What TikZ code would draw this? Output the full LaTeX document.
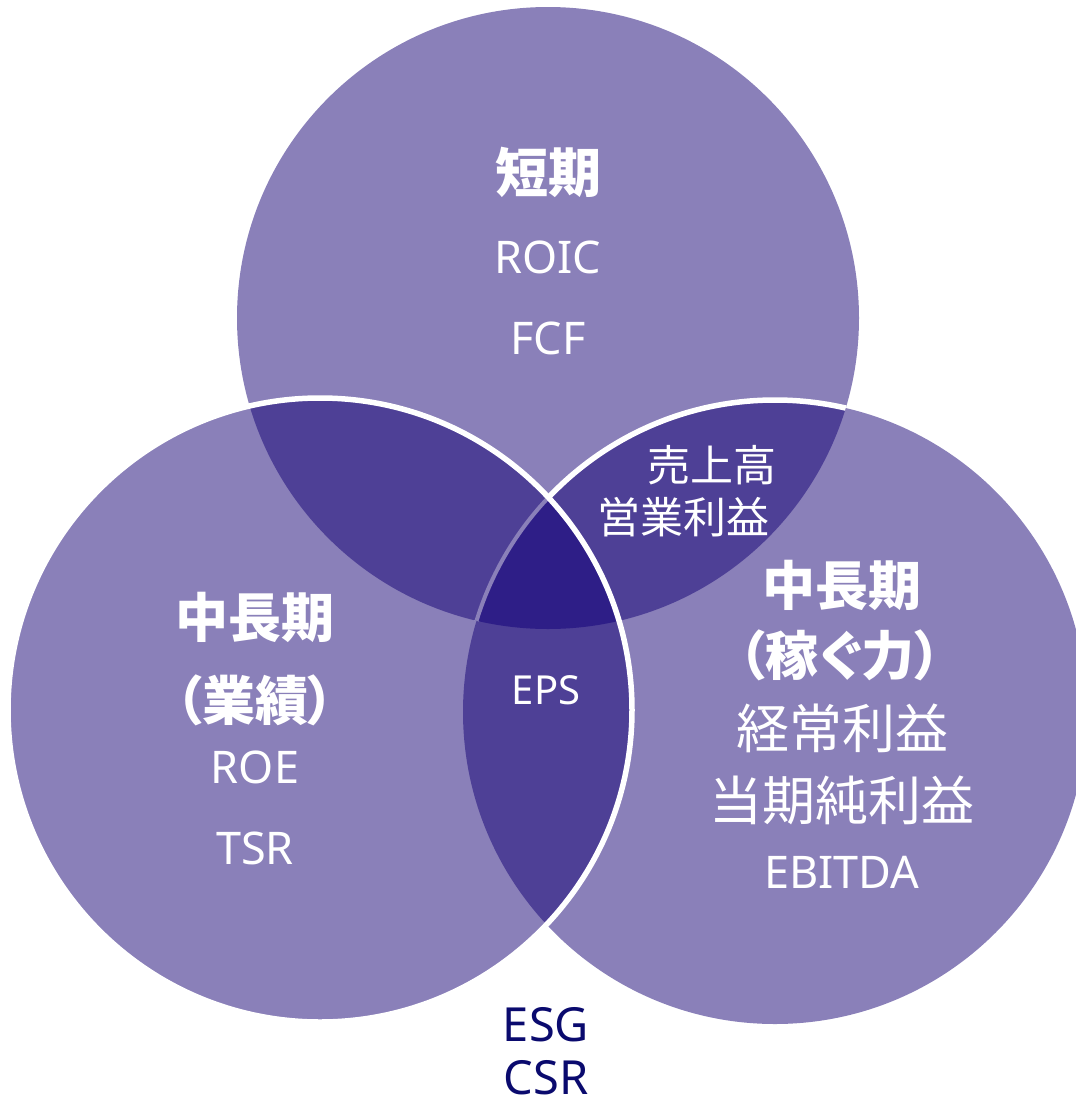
\documentclass[tikz,border=0pt]{standalone}
\usepackage{fontspec}
\setmainfont{Noto Sans}
\newfontfamily\jp{Noto Sans CJK JP}
\newfontfamily\jpp[RawFeature=+palt]{Noto Sans CJK JP}
\definecolor{light}{HTML}{8A80B9}
\definecolor{mid}{HTML}{4E4096}
\definecolor{dark}{HTML}{2E1E87}
\definecolor{navy}{HTML}{0A0A6E}
\tikzset{
  lbl/.style={inner sep=0pt, text=white, font=\fontsize{45}{50}\selectfont},
  jlbl/.style={inner sep=0pt, text=white, font=\jp\fontsize{53}{58}\selectfont},
  jhead/.style={inner sep=0pt, text=white, font=\jp\bfseries\fontsize{53}{58}\selectfont},
  jparen/.style={inner sep=0pt, text=white, font=\jpp\bfseries\fontsize{53}{58}\selectfont},
  jsmall/.style={inner sep=0pt, text=white, font=\jp\fontsize{43}{48}\selectfont},
  outer/.style={inner sep=0pt, text=navy, font=\fontsize{47}{52}\selectfont},
}
\def\Ctop{(548,318) circle[radius=311]}
\def\Cleft{(320,710) circle[radius=312]}
\def\Cright{(775,712) circle[radius=312]}
\begin{document}
\begin{tikzpicture}[x=1pt,y=-1pt]
\useasboundingbox (0,0) rectangle (1076,1101);
\begin{scope}
\clip (0,0) rectangle (1076,1101);
% single fills
\fill[light] \Ctop;
\fill[light] \Cleft;
\fill[light] \Cright;
% pairwise overlaps
\begin{scope}\clip \Ctop; \fill[mid] \Cleft; \end{scope}
\begin{scope}\clip \Ctop; \fill[mid] \Cright; \end{scope}
\begin{scope}\clip \Cleft; \fill[mid] \Cright; \end{scope}
% triple overlap
\begin{scope}\clip \Ctop; \clip \Cleft; \fill[dark] \Cright; \end{scope}
% right circle arc inside top minus left: white
\begin{scope}
  \clip \Ctop;
  \begin{scope}[even odd rule]
    \clip \Ctop (320,710) circle[radius=312];
    \draw[white, line width=5.5pt] \Cright;
  \end{scope}
\end{scope}
% right circle arc inside top and left: lavender
\begin{scope}
  \clip \Ctop; \clip \Cleft;
  \draw[light, line width=4pt] \Cright;
\end{scope}
% left circle outline: white
\draw[white, line width=5.5pt] \Cleft;
\end{scope}

% labels
\node[jhead] (tanki) at (548,172) {短期};
\node[lbl] (roic) at (548,257) {ROIC};
\node[lbl] (fcf) at (548,338) {FCF};
\node[jsmall] (uri) at (712,465) {売上高};
\node[jsmall] (eig) at (683,517) {営業利益};
\node[jhead] (chuL) at (255,617) {中長期};
\node[jparen] (gyo) at (255,700) {（業績）};
\node[lbl] (roe) at (255,767) {ROE};
\node[lbl] (tsr) at (255,848) {TSR};
\node[inner sep=0pt, text=white, font=\fontsize{40}{46}\selectfont] (eps) at (546,690) {EPS};
\node[jhead] (chuR) at (842,585) {中長期};
\node[jparen] (kase) at (840,655) {（稼ぐ力）};
\node[jlbl] (keij) at (842,728) {経常利益};
\node[jlbl] (toki) at (842,800) {当期純利益};
\node[lbl] (ebit) at (842,872) {EBITDA};
\node[outer] (esg) at (546,1025) {ESG};
\node[outer] (csr) at (546,1078) {CSR};
\end{tikzpicture}
\end{document}
